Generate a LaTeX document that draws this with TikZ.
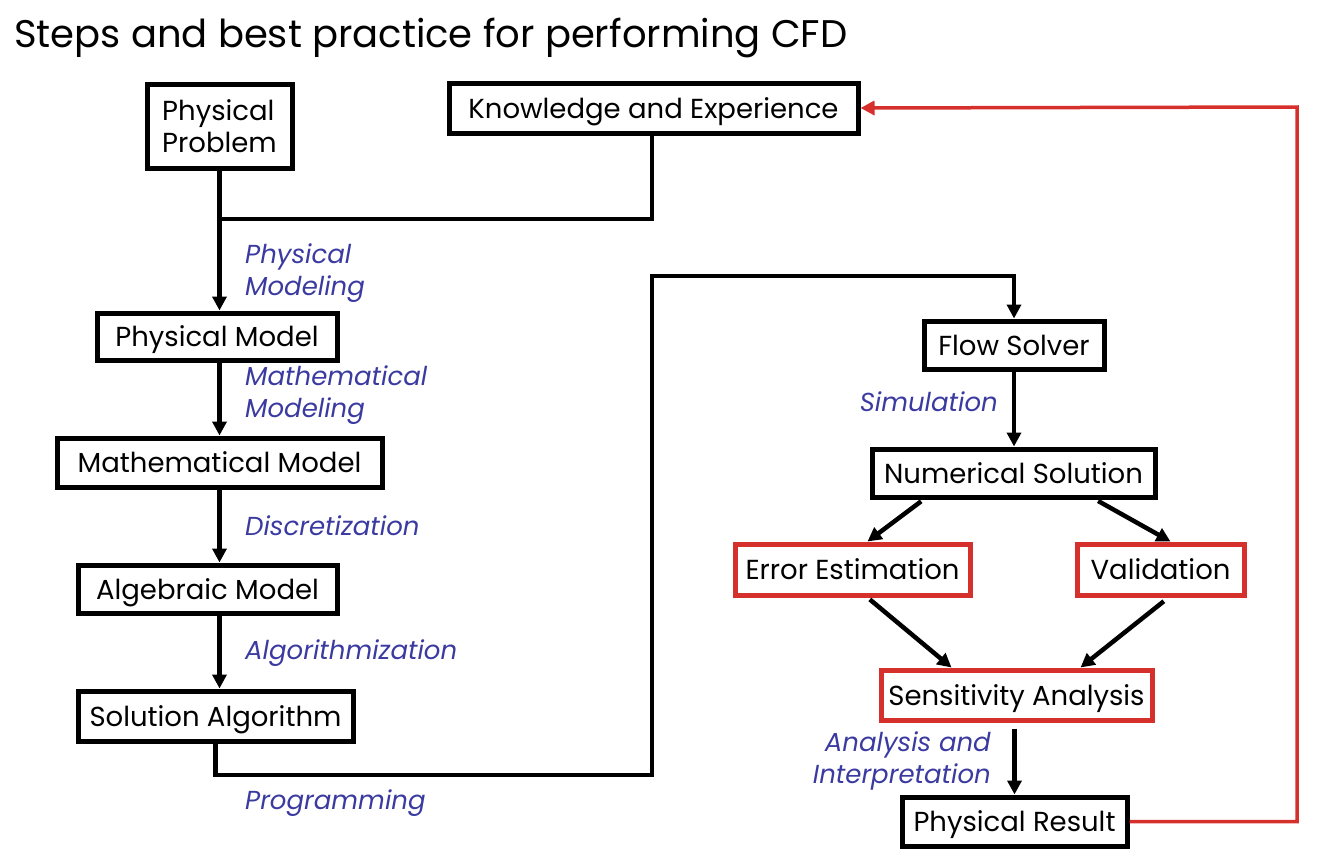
\documentclass[tikz,border=0pt]{standalone}
\usepackage{fontspec}
\setmainfont{Poppins}
\usepackage{xcolor}
\usepackage{tikz}
\usetikzlibrary{arrows.meta}
\usetikzlibrary{positioning}
\definecolor{boxred}{RGB}{214,48,44}
\definecolor{stepblue}{RGB}{58,58,160}
\tikzset{stepbox/.style={draw, line width=5pt, inner sep=0pt, font=\fontsize{27.5}{32}\selectfont}}
\tikzset{linebox/.style={stepbox, text height=26pt, text depth=6pt}}
\tikzset{redbox/.style={linebox, draw=boxred}}
\tikzset{steplabel/.style={inner sep=0pt, text=stepblue, font=\fontsize{26}{32}\selectfont\itshape}}
\tikzset{link/.style={line width=4.5pt, -{Triangle[length=14pt,width=14pt]}}}

\begin{document}
\begin{tikzpicture}[x=1pt,y=-1pt]
\useasboundingbox (0,0) rectangle (1329,854);
\node[anchor=base west, inner sep=0pt, font=\fontsize{38.5}{40}\selectfont] (title) at (14,47) {Steps and best practice for performing CFD};
\node[stepbox, minimum width=145, minimum height=84, align=left] (prob) at (219.5,126) {Physical\\Problem};
\node[linebox, minimum width=409, minimum height=50] (know) at (653.5,108) {Knowledge and Experience};
\node[linebox, minimum width=240, minimum height=47] (pmod) at (217,336.5) {Physical Model};
\node[linebox, minimum width=325, minimum height=49] (mmod) at (219.5,462.5) {Mathematical Model};
\node[linebox, minimum width=259, minimum height=48] (alg) at (207.5,589) {Algebraic Model};
\node[linebox, minimum width=275, minimum height=50] (sol) at (215.5,716) {Solution Algorithm};
\node[linebox, minimum width=180, minimum height=48] (flow) at (1014,345) {Flow Solver};
\node[linebox, minimum width=283, minimum height=48] (num) at (1013.5,473) {Numerical Solution};
\node[redbox, minimum width=235, minimum height=51] (err) at (852.5,569.5) {Error Estimation};
\node[redbox, minimum width=167, minimum height=51] (val) at (1160.5,569.5) {Validation};
\node[redbox, minimum width=271, minimum height=50] (sens) at (1016.5,695) {Sensitivity Analysis};
\node[linebox, minimum width=225, minimum height=49] (res) at (1014.5,821.5) {Physical Result};

\node[steplabel, anchor=west, align=left] (lphys) at (245,273) {Physical\\Modeling};
\node[steplabel, anchor=west, align=left] (lmath) at (245,395.5) {Mathematical\\Modeling};
\node[steplabel, anchor=west] (ldisc) at (245,526) {Discretization};
\node[steplabel, anchor=west] (lalgo) at (245,653) {Algorithmization};
\node[steplabel, anchor=west] (lprog) at (245,803) {Programming};
\node[steplabel, anchor=east] (lsim) at (998,402) {Simulation};
\node[steplabel, anchor=east, align=right] (lana) at (991,761) {Analysis and\\Interpretation};

\coordinate (join) at (219.5,219);
\coordinate (progA) at (652,775);
\coordinate (progB) at (1014,276);
\coordinate (back) at (1297,107);

\draw[link] (prob.south) -- (prob.south |- pmod.north);
\draw[line width=4.5pt] (know.south -| 652,0) |- (join);
\draw[link] (prob.south |- pmod.south) -- (prob.south |- mmod.north);
\draw[link] (prob.south |- mmod.south) -- (prob.south |- alg.north);
\draw[link] (prob.south |- alg.south) -- (prob.south |- sol.north);
\draw[link] (sol.south) |- (progA) |- (progB) -- (flow.north);
\draw[link] (flow.south) -- (flow.south |- num.north);
\draw[link, shorten <=3pt] ([xshift=-90]num.south) -- ([xshift=15]err.north);
\draw[link, shorten <=3pt] ([xshift=82]num.south) -- ([xshift=10]val.north);
\draw[link, shorten <=3pt] ([xshift=15]err.south) -- ([xshift=-65]sens.north);
\draw[link, shorten <=6pt] ([xshift=8]val.south) -- ([xshift=64]sens.north);
\draw[link, shorten <=6pt] (res.north |- sens.south) -- (res.north);
\draw[link, draw=boxred, line width=3.5pt] (res.east) -| (back) -- (know.east);
\end{tikzpicture}
\end{document}
